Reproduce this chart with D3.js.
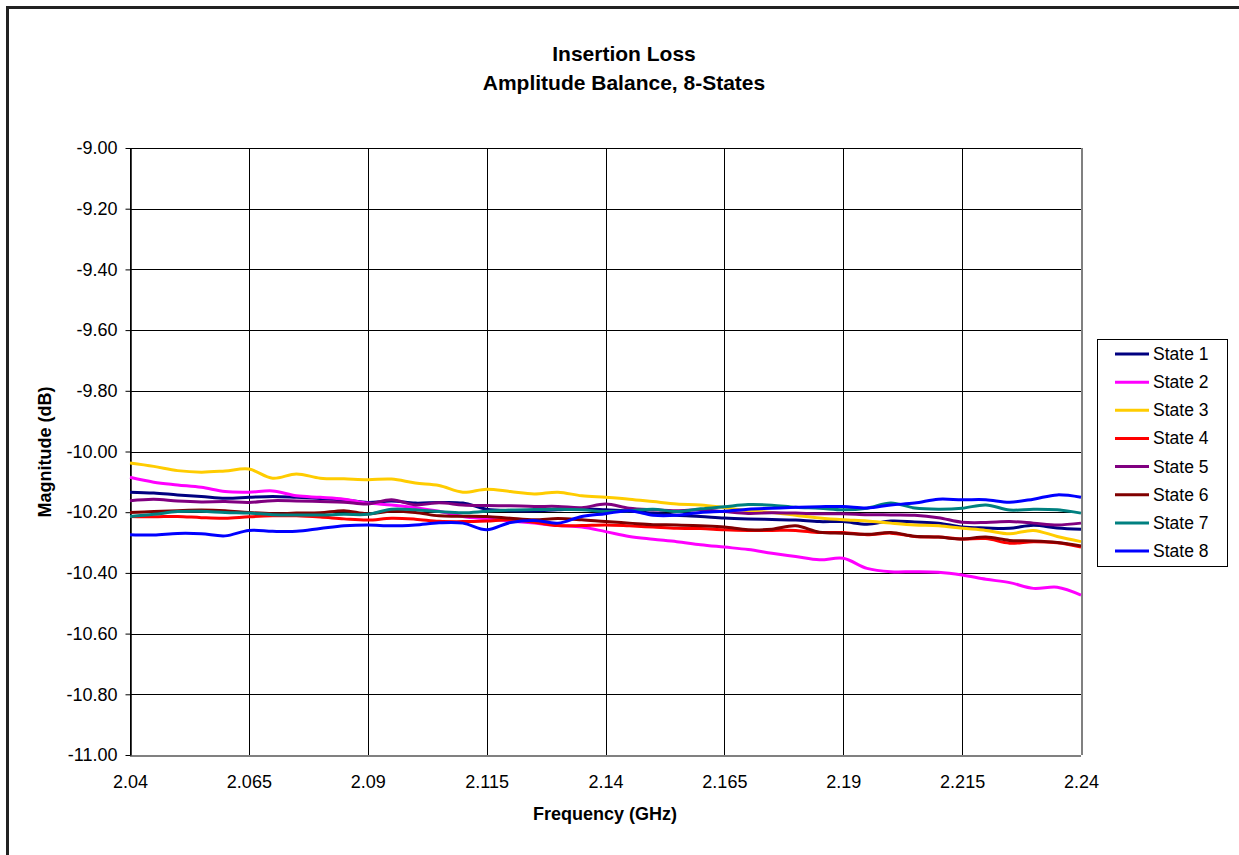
<!DOCTYPE html>
<html><head><meta charset="utf-8">
<script src="https://cdn.jsdelivr.net/npm/d3@7"></script>
<style>body{margin:0;background:#fff;}svg{display:block;font-family:"Liberation Sans",Arial,sans-serif;}</style>
</head><body>
<svg id="c" width="1239" height="855"></svg>
<script>
const freqs = d3.range(41).map(i => +(2.04 + i * 0.005).toFixed(3));
const xTicks = [2.04, 2.065, 2.09, 2.115, 2.14, 2.165, 2.19, 2.215, 2.24];
const xTickLabels = ["2.04","2.065","2.09","2.115","2.14","2.165","2.19","2.215","2.24"];
const yTicks = [-9.0,-9.2,-9.4,-9.6,-9.8,-10.0,-10.2,-10.4,-10.6,-10.8,-11.0];
const yTickLabels = ["-9.00","-9.20","-9.40","-9.60","-9.80","-10.00","-10.20","-10.40","-10.60","-10.80","-11.00"];
const seriesNames = ["State 1","State 2","State 3","State 4","State 5","State 6","State 7","State 8"];
const seriesColors = ["#000080","#FF00FF","#FFCC00","#FF0000","#800080","#800000","#008080","#0000FF"];

const state1 = [-10.134,-10.137,-10.143,-10.148,-10.154,-10.151,-10.148,-10.151,-10.155,-10.159,-10.168,-10.163,-10.170,-10.168,-10.170,-10.190,-10.195,-10.196,-10.192,-10.189,-10.192,-10.196,-10.203,-10.210,-10.214,-10.219,-10.222,-10.224,-10.226,-10.231,-10.231,-10.240,-10.229,-10.232,-10.236,-10.249,-10.252,-10.253,-10.243,-10.252,-10.256];
const state2 = [-10.085,-10.101,-10.110,-10.118,-10.132,-10.134,-10.130,-10.146,-10.151,-10.157,-10.170,-10.176,-10.185,-10.197,-10.214,-10.222,-10.229,-10.236,-10.244,-10.249,-10.264,-10.280,-10.289,-10.297,-10.307,-10.315,-10.323,-10.335,-10.346,-10.357,-10.352,-10.385,-10.396,-10.396,-10.398,-10.407,-10.421,-10.432,-10.451,-10.447,-10.473];
const state3 = [-10.038,-10.049,-10.063,-10.068,-10.064,-10.058,-10.088,-10.074,-10.088,-10.090,-10.093,-10.091,-10.104,-10.112,-10.134,-10.124,-10.132,-10.140,-10.134,-10.146,-10.151,-10.157,-10.165,-10.173,-10.176,-10.185,-10.195,-10.201,-10.210,-10.219,-10.225,-10.229,-10.236,-10.242,-10.245,-10.253,-10.260,-10.271,-10.260,-10.280,-10.297];
const state4 = [-10.214,-10.215,-10.214,-10.218,-10.220,-10.215,-10.212,-10.212,-10.216,-10.222,-10.226,-10.220,-10.223,-10.230,-10.231,-10.229,-10.225,-10.233,-10.244,-10.244,-10.242,-10.245,-10.249,-10.253,-10.254,-10.258,-10.260,-10.260,-10.260,-10.267,-10.267,-10.274,-10.269,-10.280,-10.282,-10.288,-10.287,-10.302,-10.297,-10.301,-10.315];
const state5 = [-10.162,-10.157,-10.163,-10.166,-10.165,-10.168,-10.162,-10.163,-10.165,-10.167,-10.173,-10.159,-10.176,-10.169,-10.176,-10.178,-10.179,-10.181,-10.181,-10.185,-10.173,-10.187,-10.192,-10.195,-10.192,-10.198,-10.204,-10.202,-10.203,-10.205,-10.205,-10.208,-10.209,-10.210,-10.218,-10.233,-10.234,-10.231,-10.236,-10.242,-10.236];
const state6 = [-10.201,-10.198,-10.195,-10.193,-10.195,-10.201,-10.205,-10.203,-10.202,-10.195,-10.205,-10.197,-10.201,-10.212,-10.213,-10.214,-10.220,-10.225,-10.221,-10.225,-10.231,-10.236,-10.241,-10.242,-10.245,-10.249,-10.258,-10.256,-10.245,-10.266,-10.269,-10.273,-10.267,-10.279,-10.282,-10.288,-10.282,-10.293,-10.295,-10.300,-10.311];
const state7 = [-10.214,-10.207,-10.198,-10.197,-10.201,-10.203,-10.208,-10.209,-10.209,-10.207,-10.207,-10.190,-10.192,-10.198,-10.202,-10.197,-10.193,-10.191,-10.190,-10.192,-10.198,-10.195,-10.190,-10.198,-10.189,-10.182,-10.175,-10.177,-10.184,-10.187,-10.192,-10.187,-10.170,-10.186,-10.190,-10.187,-10.176,-10.193,-10.190,-10.192,-10.203];
const state8 = [-10.274,-10.275,-10.270,-10.271,-10.278,-10.260,-10.263,-10.263,-10.254,-10.245,-10.242,-10.245,-10.242,-10.235,-10.236,-10.258,-10.234,-10.227,-10.236,-10.214,-10.205,-10.195,-10.210,-10.210,-10.201,-10.197,-10.190,-10.187,-10.184,-10.182,-10.181,-10.186,-10.176,-10.170,-10.157,-10.159,-10.159,-10.167,-10.157,-10.143,-10.151];
const seriesValues = [state1,state2,state3,state4,state5,state6,state7,state8];

const svg = d3.select("#c");
const FF = "'Liberation Sans', Arial, sans-serif";
const L = 130, R = 1081, T = 148, B = 755;
const x = d3.scaleLinear().domain([2.04, 2.24]).range([L, R]);
const y = d3.scaleLinear().domain([-11, -9]).range([B, T]);

// outer frame
svg.append("rect").attr("x", 7.5).attr("y", 7.5).attr("width", 1300).attr("height", 1000)
  .attr("fill", "none").attr("stroke", "#222").attr("stroke-width", 3);

// gridlines
const g = svg.append("g").attr("shape-rendering", "crispEdges");
g.selectAll(".hg").data(yTicks).join("line")
  .attr("x1", L).attr("x2", R).attr("y1", d => Math.round(y(d)) + 0.5).attr("y2", d => Math.round(y(d)) + 0.5)
  .attr("stroke", "#000").attr("stroke-width", 1);
g.selectAll(".vg").data(xTicks).join("line")
  .attr("y1", T).attr("y2", B).attr("x1", d => Math.round(x(d)) + 0.5).attr("x2", d => Math.round(x(d)) + 0.5)
  .attr("stroke", "#000").attr("stroke-width", 1);
g.append("line").attr("x1", R + 0.5).attr("x2", R + 0.5).attr("y1", T).attr("y2", B).attr("stroke", "#808080").attr("stroke-width", 2);
g.append("line").attr("x1", L).attr("x2", R).attr("y1", B + 0.5).attr("y2", B + 0.5).attr("stroke", "#808080").attr("stroke-width", 2);

// y axis
const yAxis = d3.axisLeft(y).tickValues(yTicks).tickSize(5).tickSizeOuter(0).tickPadding(8)
  .tickFormat((d, i) => yTickLabels[i]);
const ya = svg.append("g").attr("transform", `translate(${L + 0.5},0)`).call(yAxis);
ya.select(".domain").attr("stroke", "#000").attr("stroke-width", 1.5);
ya.selectAll(".tick line").attr("stroke", "#000");
ya.selectAll(".tick text").attr("font-size", 18).attr("fill", "#000").attr("font-family", FF);

// x axis labels
const xAxis = d3.axisBottom(x).tickValues(xTicks).tickSize(0).tickPadding(20).tickFormat((d, i) => xTickLabels[i]);
const xa = svg.append("g").attr("transform", `translate(0,${B})`).call(xAxis);
xa.select(".domain").remove();
xa.selectAll(".tick text").attr("font-size", 18).attr("fill", "#000").attr("font-family", FF);

// lines
const line = d3.line().x((d, i) => x(freqs[i])).y(d => y(d)).curve(d3.curveCatmullRom.alpha(0.5));
svg.append("g").selectAll("path").data(seriesValues).join("path")
  .attr("d", d => line(d)).attr("fill", "none")
  .attr("stroke", (d, i) => seriesColors[i]).attr("stroke-width", 3).attr("stroke-linejoin", "round");

// titles
svg.append("text").attr("x", 624).attr("y", 61).attr("text-anchor", "middle")
  .attr("font-size", 21).attr("font-weight", "bold").text("Insertion Loss");
svg.append("text").attr("x", 624).attr("y", 90).attr("text-anchor", "middle")
  .attr("font-size", 21).attr("font-weight", "bold").text("Amplitude Balance, 8-States");
svg.append("text").attr("x", 605).attr("y", 820).attr("text-anchor", "middle")
  .attr("font-size", 18).attr("font-weight", "bold").text("Frequency (GHz)");
svg.append("text").attr("transform", "translate(51,452) rotate(-90)").attr("text-anchor", "middle")
  .attr("font-size", 18).attr("font-weight", "bold").text("Magnitude (dB)");

// legend
const lg = svg.append("g");
lg.append("rect").attr("x", 1097.5).attr("y", 339.5).attr("width", 130).attr("height", 227)
  .attr("fill", "#fff").attr("stroke", "#000").attr("stroke-width", 1);
seriesNames.forEach((n, i) => {
  const yy = 354 + i * 28.15;
  lg.append("line").attr("x1", 1115).attr("x2", 1149).attr("y1", yy).attr("y2", yy)
    .attr("stroke", seriesColors[i]).attr("stroke-width", 3);
  lg.append("text").attr("x", 1153).attr("y", yy + 6).attr("font-size", 17.5).text(n);
});
</script>
</body></html>
